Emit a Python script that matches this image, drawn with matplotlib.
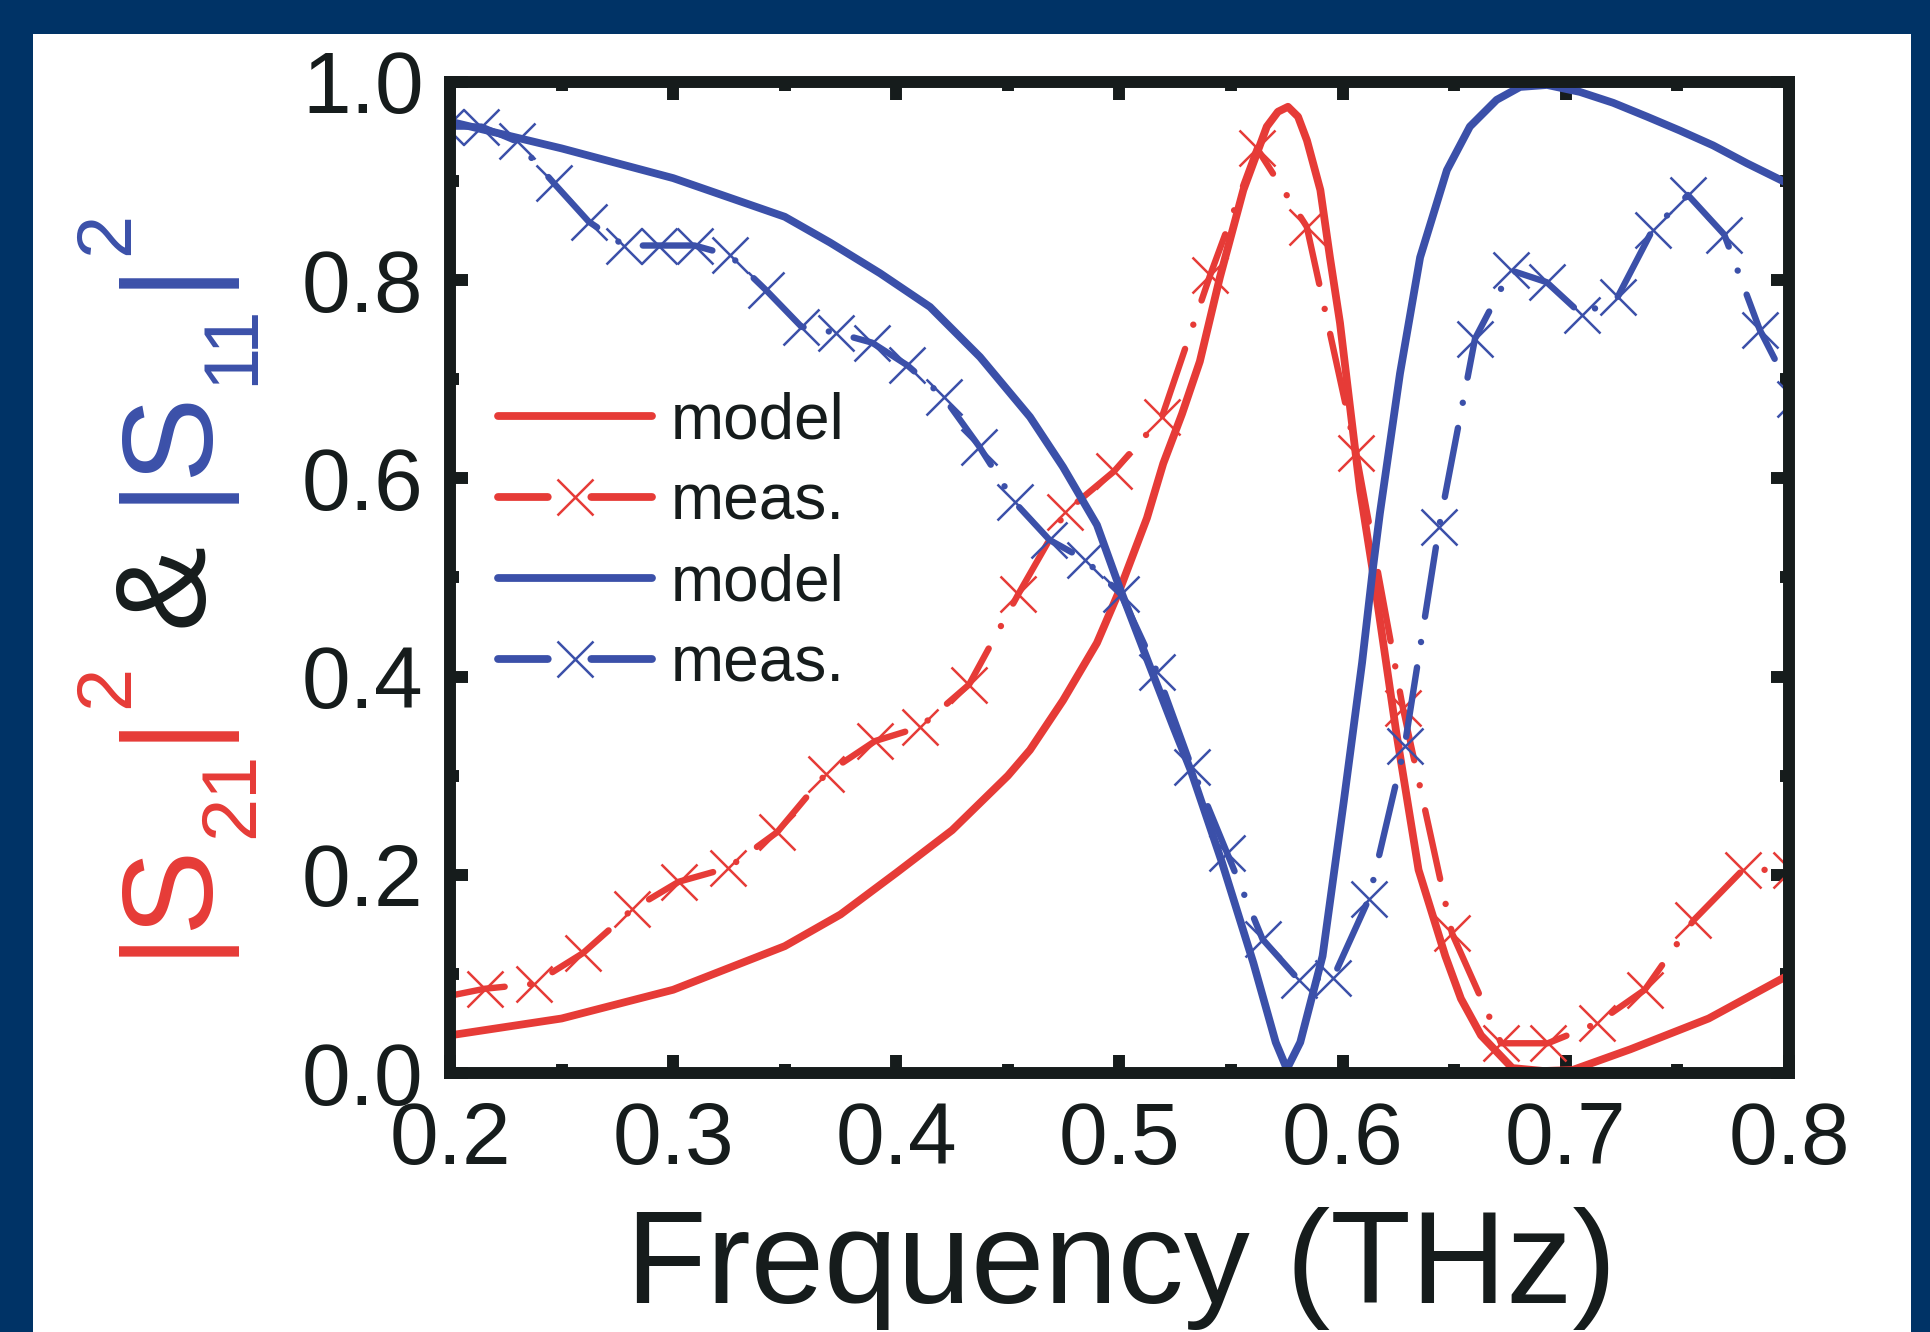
import matplotlib
matplotlib.use("Agg")
import matplotlib.pyplot as plt
from matplotlib.lines import Line2D
from matplotlib.patches import Rectangle
from matplotlib.ticker import MultipleLocator, FormatStrFormatter

plt.rcParams['font.family'] = ['Liberation Sans', 'DejaVu Sans']

# |S21|^2 model (red solid)
s21_model_f = [0.20, 0.25, 0.30, 0.35, 0.375, 0.40, 0.425, 0.45, 0.4599, 0.4747, 0.4899,
               0.50, 0.5123, 0.5196, 0.528, 0.536, 0.545, 0.5555, 0.566, 0.571, 0.5755,
               0.580, 0.584, 0.590, 0.5943, 0.5988, 0.6033, 0.6078, 0.6136, 0.624, 0.634,
               0.646, 0.653, 0.662, 0.676, 0.690, 0.703, 0.729, 0.764, 0.80]
s21_model = [0.038, 0.055, 0.084, 0.128, 0.160, 0.202, 0.245, 0.300, 0.326, 0.376, 0.434,
             0.487, 0.560, 0.615, 0.665, 0.718, 0.803, 0.891, 0.955, 0.970, 0.975,
             0.965, 0.941, 0.891, 0.823, 0.757, 0.672, 0.588, 0.505, 0.344, 0.205,
             0.118, 0.075, 0.038, 0.005, 0.002, 0.003, 0.024, 0.055, 0.099]

# |S21|^2 measured (red dashed, x markers)
s21_meas_f = [0.1935, 0.2155, 0.2375, 0.2596, 0.2816, 0.3025, 0.3246, 0.3466, 0.3685, 0.3905,
              0.4106, 0.4326, 0.4546, 0.4757, 0.4975, 0.519, 0.5406, 0.5616, 0.5839, 0.606,
              0.627, 0.649, 0.671, 0.6919, 0.7138, 0.7354, 0.7572, 0.7793, 0.801]
s21_meas = [0.075, 0.085, 0.090, 0.121, 0.165, 0.193, 0.207, 0.243, 0.302, 0.335,
            0.349, 0.392, 0.483, 0.566, 0.607, 0.662, 0.805, 0.933, 0.854, 0.626,
            0.368, 0.141, 0.030, 0.030, 0.050, 0.084, 0.154, 0.205, 0.205]

# |S11|^2 model (blue solid)
s11_model_f = [0.20, 0.25, 0.30, 0.35, 0.3703, 0.3927, 0.4151, 0.4375, 0.4599, 0.4747, 0.4899,
               0.50, 0.5123, 0.524, 0.532, 0.546, 0.560, 0.570, 0.575, 0.581, 0.591, 0.6005,
               0.6087, 0.6136, 0.6167, 0.6257, 0.6347, 0.6467, 0.657, 0.669, 0.6795, 0.6916,
               0.7063, 0.7212, 0.7364, 0.7511, 0.766, 0.7811, 0.80]
s11_model = [0.960, 0.933, 0.903, 0.864, 0.838, 0.807, 0.773, 0.7225, 0.662, 0.6115, 0.553,
             0.490, 0.418, 0.350, 0.305, 0.212, 0.111, 0.031, 0.004, 0.031, 0.118, 0.274,
             0.414, 0.510, 0.565, 0.706, 0.823, 0.911, 0.955, 0.982, 0.995, 0.997,
             0.990, 0.979, 0.965, 0.951, 0.936, 0.918, 0.897]

# |S11|^2 measured (blue dashed, x markers)
s11_meas_f = [0.1982, 0.2141, 0.23, 0.2465, 0.2622, 0.2781, 0.2935, 0.3096, 0.3255, 0.3416,
              0.3575, 0.3731, 0.3891, 0.405, 0.4212, 0.4372, 0.453, 0.4686, 0.4845, 0.5007,
              0.5168, 0.5323, 0.5482, 0.5641, 0.5803, 0.5957, 0.6118, 0.6278, 0.6432, 0.6593,
              0.6753, 0.6914, 0.7073, 0.7232, 0.7389, 0.7547, 0.771, 0.7869, 0.8028]
s11_meas = [0.955, 0.955, 0.940, 0.898, 0.859, 0.835, 0.835, 0.835, 0.825, 0.790,
            0.753, 0.747, 0.737, 0.714, 0.682, 0.632, 0.576, 0.538, 0.518, 0.483,
            0.405, 0.309, 0.222, 0.135, 0.094, 0.096, 0.176, 0.330, 0.551, 0.741,
            0.810, 0.798, 0.765, 0.783, 0.851, 0.886, 0.846, 0.750, 0.680]

legend_labels = ['model', 'meas.', 'model', 'meas.']
xticks = [0.2, 0.3, 0.4, 0.5, 0.6, 0.7, 0.8]
yticks = [0.0, 0.2, 0.4, 0.6, 0.8, 1.0]

RED = '#e63b37'
BLUE = '#3b50a9'
NAVY = '#003366'
INK = '#161c1c'
LW = 5.6      # model lines
LW_M = 4.6    # measured lines
W, H = 1931, 1332


def fx(px):
    return px / W


def fy(py):
    return 1 - py / H


fig = plt.figure(figsize=(W / 100, H / 100), dpi=100, facecolor=NAVY)
fig.patches.append(Rectangle((fx(33), 0), fx(1911) - fx(33), fy(34), transform=fig.transFigure,
                             facecolor='white', edgecolor='none', zorder=-5))

ax = fig.add_axes([fx(450), fy(1073), fx(1789) - fx(450), fy(82) - fy(1073)])
ax.set_facecolor('white')

ax.plot(s21_model_f, s21_model, color=RED, lw=LW, solid_capstyle='round', solid_joinstyle='round')
ax.plot(s21_meas_f, s21_meas, color=RED, lw=LW_M, dashes=(11, 4, 0.01, 4), dash_capstyle='round',
        marker='x', ms=26, mew=1.8)
ax.plot(s11_model_f, s11_model, color=BLUE, lw=LW, solid_capstyle='round', solid_joinstyle='round')
ax.plot(s11_meas_f, s11_meas, color=BLUE, lw=LW_M, dashes=(11, 4, 0.01, 4), dash_capstyle='round',
        marker='x', ms=26, mew=1.8)

ax.set_xlim(0.2, 0.8)
ax.set_ylim(0, 1.0)
ax.set_xticks(xticks)
ax.set_yticks(yticks)
ax.xaxis.set_minor_locator(MultipleLocator(0.05))
ax.yaxis.set_minor_locator(MultipleLocator(0.1))
ax.xaxis.set_major_formatter(FormatStrFormatter('%.1f'))
ax.yaxis.set_major_formatter(FormatStrFormatter('%.1f'))
for sp in ax.spines.values():
    sp.set_linewidth(8.6)
    sp.set_color(INK)
ax.tick_params(which='both', direction='in', top=True, right=True, width=8.6, color=INK)
ax.tick_params(which='major', length=13, labelsize=63, labelcolor=INK)
ax.tick_params(which='minor', length=6.5)
ax.tick_params(axis='x', which='major', pad=20)
ax.tick_params(axis='y', which='major', pad=19)

# legend with handles like the original: dash - x - dash
handles = [
    Line2D([], [], color=RED, lw=LW, solid_capstyle='round'),
    Line2D([], [], color=RED, lw=LW, dashes=(6.4, 5.6, 40, 1), dash_capstyle='round',
           marker='x', ms=26, mew=1.8),
    Line2D([], [], color=BLUE, lw=LW, solid_capstyle='round'),
    Line2D([], [], color=BLUE, lw=LW, dashes=(6.4, 5.6, 40, 1), dash_capstyle='round',
           marker='x', ms=26, mew=1.8),
]
leg = ax.legend(handles, legend_labels, loc='upper left', bbox_to_anchor=(fx(498), fy(391)),
                bbox_transform=fig.transFigure, frameon=False, fontsize=46, handlelength=2.41,
                handletextpad=0.3, labelspacing=0.33, borderpad=0, borderaxespad=0, numpoints=1)
for t in leg.get_texts():
    t.set_color(INK)

# x label
fig.text(fx(1121), fy(1303), 'Frequency (THz)', ha='center', va='baseline', fontsize=95, color=INK)

# y label built from pieces: |S21|^2 & |S11|^2 (red, black, blue), reading bottom to top
BIG, SMALL = 92, 56
em_big = BIG * 100 / 72
em_small = SMALL * 100 / 72
base_x = 202


def put(s, pen_y, size, color, shift=0):
    fig.text(fx(base_x + shift), fy(pen_y), s, rotation=90, rotation_mode='anchor',
             ha='left', va='baseline', fontsize=size, color=color)


def s_piece(pen, sub, color):
    put('|S', pen, BIG, color)
    pen -= (0.26 + 0.667) * em_big
    put(sub, pen, SMALL, color, shift=51)
    pen -= 2 * 0.556 * em_small + 10
    put('|', pen, BIG, color)
    pen -= 0.26 * em_big
    put('2', pen, SMALL, color, shift=-74)


s_piece(956, '21', RED)
put('&', 627, BIG, INK)
s_piece(503, '11', BLUE)

fig.savefig('out.png', dpi=100, facecolor=NAVY)
